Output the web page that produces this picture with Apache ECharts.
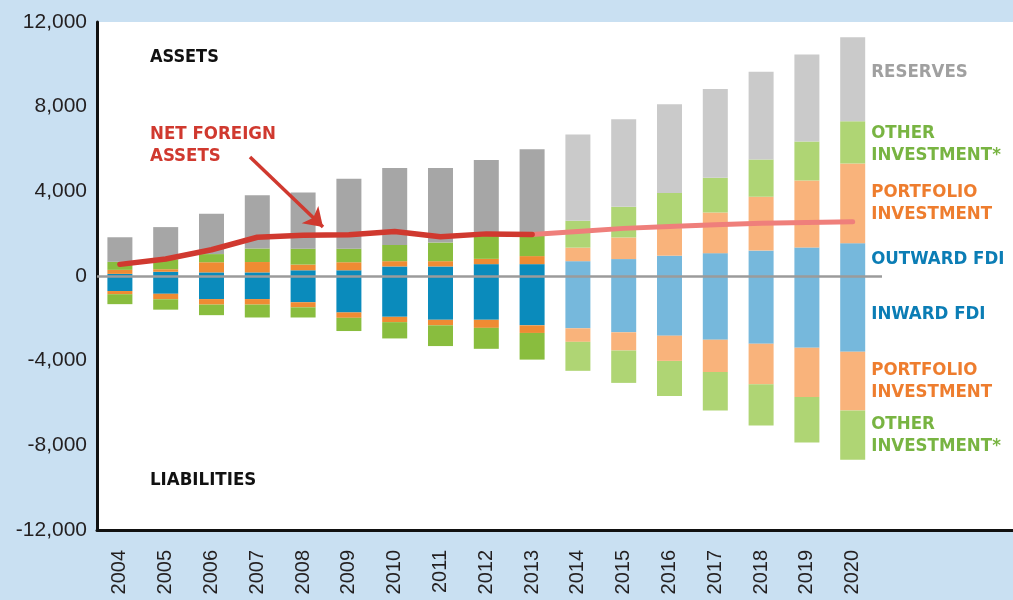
<!DOCTYPE html>
<html>
<head>
<meta charset="utf-8">
<script src="https://cdn.jsdelivr.net/npm/echarts@6/dist/echarts.min.js"></script>
<style>
  html, body { margin: 0; padding: 0; background: #c9e0f2; }
  #chart { width: 1013px; height: 600px; }
</style>
</head>
<body>
<div id="chart"></div>
<script>
// data (2014 onwards are projections)
const years = ['2004', '2005', '2006', '2007', '2008', '2009', '2010', '2011', '2012',
  '2013', '2014', '2015', '2016', '2017', '2018', '2019', '2020'];
const firstProjected = 10;

// assets, stacked up from zero
const outwardFdi = [100, 200, 170, 170, 270, 270, 450, 450, 560, 560, 700, 800, 960, 1080, 1200, 1350, 1550];
const portfolioAssets = [190, 120, 480, 490, 270, 380, 250, 250, 250, 380, 640, 1020, 1300, 1920, 2540, 3160, 3760];
const otherAssets = [380, 470, 385, 640, 750, 640, 770, 880, 1090, 1010, 1270, 1450, 1660, 1640, 1760, 1850, 2000];
const reserves = [1160, 1520, 1905, 2520, 2660, 3300, 3630, 3520, 3580, 4040, 4080, 4140, 4200, 4200, 4150, 4110, 3970];

// liabilities, stacked down from zero
const inwardFdi = [-710, -840, -1090, -1090, -1240, -1720, -1930, -2070, -2070, -2330, -2470, -2660, -2820, -3010, -3200, -3390, -3580];
const portfolioLiab = [-150, -260, -260, -260, -240, -255, -250, -260, -380, -360, -640, -860, -1190, -1530, -1910, -2330, -2780];
const otherLiab = [-470, -490, -500, -610, -480, -625, -770, -980, -990, -1260, -1370, -1530, -1660, -1820, -1950, -2150, -2320];

// net foreign assets: actual 2004-2013, projection 2013-2020
const netActual = [550, 800, 1240, 1830, 1930, 1950, 2100, 1850, 1990, 1960];
const netProjected = [1960, 2100, 2250, 2340, 2420, 2490, 2530, 2560];

const yTicks = { min: -12000, max: 12000, step: 4000 };

const narrow = '"Liberation Sans Narrow", "DejaVu Sans Condensed", sans-serif';
const grey = { dark: '#a6a6a6', light: '#cacaca', text: '#a0a0a0' };
const green = { dark: '#89bd3e', light: '#afd574', text: '#78b442' };
const orange = { dark: '#ef8b33', light: '#f9b37b', text: '#ee7d2e' };
const blue = { dark: '#0a8bbc', light: '#76b8dc', text: '#0b7db5' };

function barSeries(name, values, pal, label, labelOffset) {
  return {
    name: name,
    type: 'bar',
    stack: 'iip',
    barWidth: 25,
    silent: true,
    data: values.map(function (v, i) {
      let item = {
        value: v,
        itemStyle: { color: i < firstProjected ? pal.dark : pal.light }
      };
      if (i === values.length - 1) {
        item.label = {
          show: true,
          position: 'right',
          distance: 6,
          offset: labelOffset || [0, 0],
          formatter: label,
          color: pal.text,
          fontFamily: narrow,
          fontWeight: 'bold',
          fontSize: 18.5,
          lineHeight: 22,
          align: 'left'
        };
      }
      return item;
    })
  };
}

// pad the band axis so 2020 sits where it does in the picture, labels to its right
const axisCats = years.concat(['', '', '']);

let chart = echarts.init(document.getElementById('chart'));
chart.setOption({
  animation: false,
  backgroundColor: '#c9e0f2',
  grid: {
    left: 97, right: 0, top: 22, bottom: 70,
    show: true, backgroundColor: '#fff', borderWidth: 0
  },
  xAxis: {
    type: 'category',
    data: axisCats,
    axisLine: { show: true, onZero: false, lineStyle: { color: '#111', width: 3 } },
    axisTick: { show: false },
    axisLabel: {
      interval: 0, rotate: 90, margin: 20,
      fontFamily: 'Liberation Sans, Arial, sans-serif', fontSize: 20, color: '#231f20'
    }
  },
  yAxis: {
    type: 'value',
    min: yTicks.min, max: yTicks.max, interval: yTicks.step,
    axisLine: { show: true, lineStyle: { color: '#111', width: 3 } },
    axisTick: { show: false },
    splitLine: { show: false },
    axisLabel: {
      margin: 10,
      fontFamily: 'Liberation Sans, Arial, sans-serif', fontSize: 21, color: '#231f20',
      formatter: function (v) { return v.toLocaleString('en-US'); }
    }
  },
  graphic: [
    { type: 'text', left: 150, top: 48,
      style: { text: 'ASSETS', font: 'bold 18px ' + narrow, fill: '#111' } },
    { type: 'text', left: 150, top: 471,
      style: { text: 'LIABILITIES', font: 'bold 18.5px ' + narrow, fill: '#111' } },
    { type: 'text', left: 150, top: 123,
      style: { text: 'NET FOREIGN\nASSETS', font: 'bold 18.5px ' + narrow, fill: '#d0392f', lineHeight: 22 } }
  ],
  series: [
    barSeries('Outward FDI', outwardFdi, blue, 'OUTWARD FDI'),
    barSeries('Inward FDI', inwardFdi, blue, 'INWARD FDI'),
    barSeries('Portfolio assets', portfolioAssets, orange, 'PORTFOLIO\nINVESTMENT'),
    barSeries('Portfolio liabilities', portfolioLiab, orange, 'PORTFOLIO\nINVESTMENT'),
    barSeries('Other assets', otherAssets, green, 'OTHER\nINVESTMENT*', [0, 2]),
    barSeries('Other liabilities', otherLiab, green, 'OTHER\nINVESTMENT*'),
    barSeries('Reserves', reserves, grey, 'RESERVES', [0, -7]),
    {
      name: 'Net foreign assets',
      type: 'line',
      data: netActual,
      symbol: 'none',
      silent: true,
      z: 5,
      lineStyle: { color: '#d0392f', width: 5.5, cap: 'round', join: 'round' },
      markLine: {
        silent: true,
        symbol: 'none',
        label: { show: false },
        lineStyle: { color: '#9b9b9b', width: 2.5, type: 'solid' },
        data: [[{ yAxis: 0, x: 97 }, { yAxis: 0, x: 882 }]]
      }
    },
    {
      name: 'Net foreign assets (projected)',
      type: 'line',
      data: years.map(function (y, i) {
        return i < firstProjected - 1 ? '-' : netProjected[i - firstProjected + 1];
      }),
      symbol: 'none',
      silent: true,
      z: 4,
      lineStyle: { color: '#ef7f7b', width: 5, cap: 'round', join: 'round' },
      markLine: {
        silent: true,
        symbol: ['none', 'arrow'],
        symbolSize: 18,
        label: { show: false },
        lineStyle: { color: '#d0392f', width: 3.5, type: 'solid' },
        data: [[{ x: 250, y: 157 }, { x: 323, y: 227 }]]
      }
    }
  ]
});
</script>
</body>
</html>
